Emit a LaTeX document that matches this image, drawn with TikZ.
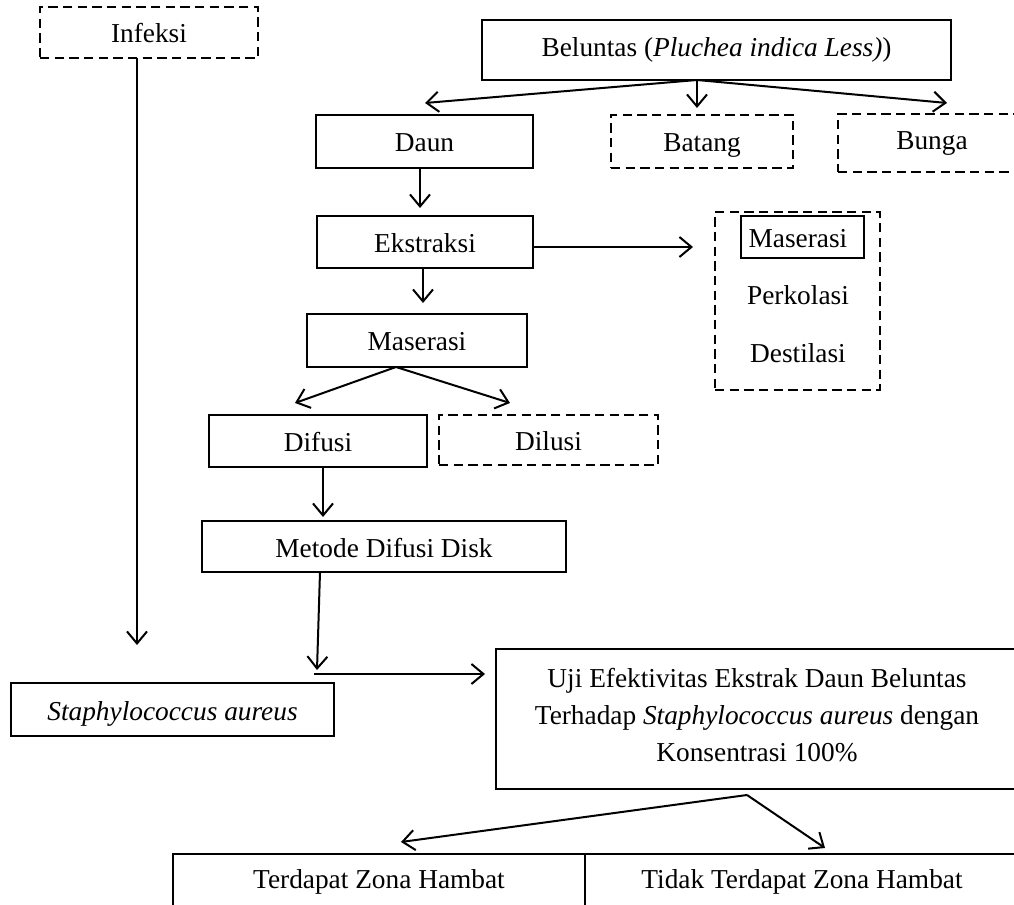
\documentclass[tikz,border=0pt]{standalone}
\usepackage{fontspec}
\setmainfont{Liberation Serif}
\usetikzlibrary{arrows.meta}
\begin{document}
\begin{tikzpicture}[x=0.75pt,y=-0.75pt,
  every node/.style={font=\fontsize{20.5pt}{28pt}\selectfont, inner sep=0pt, outer sep=0pt},
  tx/.style={text height=15.75pt, text depth=0pt},
  txhigh/.style={text height=10.5pt, text depth=0pt},
  solidbox/.style={draw, line width=1.6pt, rectangle},
  dashbox/.style={draw, line width=1.6pt, rectangle, dash pattern=on 7pt off 4pt},
  arr/.style={line width=1.5pt, -{Straight Barb[length=9pt,width=15pt,line width=1.5pt]}}]
\useasboundingbox (0,0) rectangle (1014,905);
\clip (0,0) rectangle (1014,905);
% nodes
\node[dashbox, tx, minimum width=163.5pt, minimum height=38.25pt] (inf) at (149,32.5) {Infeksi};
\node[solidbox, txhigh, minimum width=351.75pt, minimum height=45pt] (bel) at (716.5,50) {Beluntas (\textit{Pluchea indica Less)})};
\node[solidbox, tx, minimum width=162.75pt, minimum height=39.75pt] (daun) at (424.5,141.5) {Daun};
\node[dashbox, tx, minimum width=136.5pt, minimum height=39.75pt] (bat) at (702,141.5) {Batang};
\node[dashbox, txhigh, minimum width=141pt, minimum height=43.5pt] (bun) at (932,143) {Bunga};
\node[solidbox, tx, minimum width=162pt, minimum height=39pt] (eks) at (425,242) {Ekstraksi};
\node[dashbox, minimum width=123.75pt, minimum height=133.5pt] (grp) at (797.5,301) {};
\node[solidbox, minimum width=92.25pt, minimum height=31.5pt] (gmas) at (802.5,237) {};
\node[tx] (gmast) at (798,237.5) {Maserasi};
\node[tx] (perk) at (798,294.5) {Perkolasi};
\node[tx] (dest) at (798,352.5) {Destilasi};
\node[solidbox, tx, minimum width=165pt, minimum height=39.75pt] (mas) at (417,340.5) {Maserasi};
\node[solidbox, tx, minimum width=163.5pt, minimum height=39pt] (dif) at (318,441) {Difusi};
\node[dashbox, tx, minimum width=164.25pt, minimum height=37.5pt] (dil) at (548.5,440) {Dilusi};
\node[solidbox, tx, minimum width=273pt, minimum height=38.25pt] (met) at (384,546.5) {Metode Difusi Disk};
\node[solidbox, tx, minimum width=242.25pt, minimum height=39.75pt] (sta) at (172.5,709.5) {\textit{Staphylococcus aureus}};
\node[solidbox, minimum width=391.5pt, minimum height=105pt] (uji) at (757,719) {};
\node[align=center] (ujit) at (757,715) {Uji Efektivitas Ekstrak Daun Beluntas\\Terhadap \textit{Staphylococcus aureus} dengan\\Konsentrasi 100\%};
\node[solidbox, minimum width=309pt, minimum height=45pt] (adacell) at (379,884) {};
\node[solidbox, minimum width=325.5pt, minimum height=45pt] (tidakcell) at (802,884) {};
\node[tx] (ada) at (379,877.5) {Terdapat Zona Hambat};
\node[tx] (tidak) at (802,877.5) {Tidak Terdapat Zona Hambat};
% coordinates
\coordinate (bo) at (697,80);
\coordinate (tdaun) at (425,103);
\coordinate (tbat) at (697,108);
\coordinate (tbun) at (947,103);
\coordinate (teks) at (420,208);
\coordinate (tgrp) at (693,247);
\coordinate (tmas) at (423,303);
\coordinate (mo) at (396,367);
\coordinate (tdif) at (295,403);
\coordinate (tdil) at (510,403);
\coordinate (tmet) at (323,517);
\coordinate (mets) at (320,572);
\coordinate (tjoin) at (317,670);
\coordinate (hs) at (314,674);
\coordinate (tuji) at (485,674);
\coordinate (infs) at (137,58);
\coordinate (tsta) at (137,645);
\coordinate (uo) at (747,795);
\coordinate (tada) at (401,842);
\coordinate (ttid) at (825,848);
% connectors
\draw[arr] (bo) -- (tdaun);
\draw[arr] (bo) -- (tbat);
\draw[arr] (bo) -- (tbun);
\draw[arr] (daun.south -| teks) -- (teks);
\draw[arr] (eks.east |- tgrp) -- (tgrp);
\draw[arr] (eks.south -| tmas) -- (tmas);
\draw[arr] (mo) -- (tdif);
\draw[arr] (mo) -- (tdil);
\draw[arr] (dif.south -| tmet) -- (tmet);
\draw[arr] (mets) -- (tjoin);
\draw[arr] (hs) -- (tuji);
\draw[arr] (infs) -- (tsta);
\draw[arr] (uo) -- (tada);
\draw[arr] (uo) -- (ttid);
\end{tikzpicture}
\end{document}
